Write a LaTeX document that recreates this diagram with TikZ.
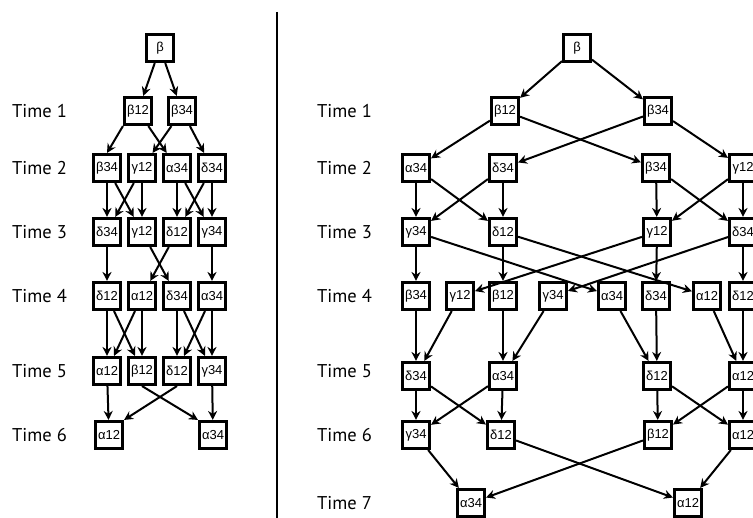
\documentclass[tikz,border=0pt]{standalone}
\usepackage{fontspec}
\setmainfont{Liberation Sans}
\newfontfamily\timefont{PT Sans}
\usepackage{tikz}
\usetikzlibrary{arrows.meta}

\begin{document}
\begin{tikzpicture}[x=1pt, y=-1pt,
  tbox/.style={draw, line width=2.6pt, minimum size=27.5pt, inner sep=0pt, font=\fontsize{13}{15}\selectfont},
  tlabel/.style={anchor=west, inner sep=0pt, font=\timefont\fontsize{18.5}{20}\selectfont},
  flow/.style={-{Stealth[length=9pt, width=9pt]}, line width=2pt}
]
  \useasboundingbox (0,0) rectangle (753,518);
  \clip (0,0) rectangle (753,518);

  % divider
  \draw[line width=2pt] (277,12) -- (277,518);

  % left: time labels
  \node[tlabel] (Lt1) at (12,111) {Time 1};
  \node[tlabel] (Lt2) at (12,168) {Time 2};
  \node[tlabel] (Lt3) at (12,232) {Time 3};
  \node[tlabel] (Lt4) at (12,296) {Time 4};
  \node[tlabel] (Lt5) at (12,371) {Time 5};
  \node[tlabel] (Lt6) at (12,435) {Time 6};

  % left: boxes
  \node[tbox] (Lb) at (160,48) {β};
  \node[tbox] (L1a) at (138,111) {β12};
  \node[tbox] (L1b) at (182,111) {β34};
  \node[tbox] (L2a) at (107,168) {β34};
  \node[tbox] (L2b) at (142,168) {γ12};
  \node[tbox] (L2c) at (177,168) {α34};
  \node[tbox] (L2d) at (212,168) {δ34};
  \node[tbox] (L3a) at (107,232) {δ34};
  \node[tbox] (L3b) at (142,232) {γ12};
  \node[tbox] (L3c) at (177,232) {δ12};
  \node[tbox] (L3d) at (212,232) {γ34};
  \node[tbox] (L4a) at (107,296) {δ12};
  \node[tbox] (L4b) at (142,296) {α12};
  \node[tbox] (L4c) at (177,296) {δ34};
  \node[tbox] (L4d) at (212,296) {α34};
  \node[tbox] (L5a) at (107,371) {α12};
  \node[tbox] (L5b) at (142,371) {β12};
  \node[tbox] (L5c) at (177,371) {δ12};
  \node[tbox] (L5d) at (212,371) {γ34};
  \node[tbox] (L6a) at (109,435) {α12};
  \node[tbox] (L6b) at (213,435) {α34};

  % left: arrows
  \draw[flow] (Lb) -- (L1a);
  \draw[flow] (Lb) -- (L1b);
  \draw[flow] (L1a.south west) -- (L2a.north);
  \draw[flow] (L1a) -- (L2c);
  \draw[flow] (L1b) -- (L2b);
  \draw[flow] (L1b) -- (L2d);
  \draw[flow] (L2a) -- (L3a);
  \draw[flow] (L2a) -- (L3b);
  \draw[flow] (L2b) -- (L3a);
  \draw[flow] (L2b) -- (L3b);
  \draw[flow] (L2c) -- (L3c);
  \draw[flow] (L2c) -- (L3d);
  \draw[flow] (L2d) -- (L3c);
  \draw[flow] (L2d) -- (L3d);
  \draw[flow] (L3a) -- (L4a);
  \draw[flow] (L3b) -- (L4c);
  \draw[flow] (L3c) -- (L4b);
  \draw[flow] (L3d) -- (L4d);
  \draw[flow] (L4a) -- (L5a);
  \draw[flow] (L4a) -- (L5b);
  \draw[flow] (L4b) -- (L5a);
  \draw[flow] (L4b) -- (L5b);
  \draw[flow] (L4c) -- (L5c);
  \draw[flow] (L4c) -- (L5d);
  \draw[flow] (L4d) -- (L5c);
  \draw[flow] (L4d) -- (L5d);
  \draw[flow] (L5a) -- (L6a);
  \draw[flow] (L5b.south) -- (L6b.north west);
  \draw[flow] (L5c.south) -- (L6a.north east);
  \draw[flow] (L5d) -- (L6b);

  % right: time labels
  \node[tlabel] (Rt1) at (317,111) {Time 1};
  \node[tlabel] (Rt2) at (317,168) {Time 2};
  \node[tlabel] (Rt3) at (317,232) {Time 3};
  \node[tlabel] (Rt4) at (317,296) {Time 4};
  \node[tlabel] (Rt5) at (317,371) {Time 5};
  \node[tlabel] (Rt6) at (317,435) {Time 6};
  \node[tlabel] (Rt7) at (317,503) {Time 7};

  % right: boxes
  \node[tbox] (Rb) at (577,48) {β};
  \node[tbox] (R1a) at (505,111) {β12};
  \node[tbox] (R1b) at (658,111) {β34};
  \node[tbox] (R2a) at (416,168) {α34};
  \node[tbox] (R2b) at (503,168) {δ34};
  \node[tbox] (R2c) at (656,168) {β34};
  \node[tbox] (R2d) at (743,168) {γ12};
  \node[tbox] (R3a) at (416,232) {γ34};
  \node[tbox] (R3b) at (503,232) {δ12};
  \node[tbox] (R3c) at (657,232) {γ12};
  \node[tbox] (R3d) at (743,232) {δ34};
  \node[tbox] (R4a) at (416,296) {β34};
  \node[tbox] (R4b) at (460,296) {γ12};
  \node[tbox] (R4c) at (503,296) {β12};
  \node[tbox] (R4d) at (553,296) {γ34};
  \node[tbox] (R4e) at (612,296) {α34};
  \node[tbox] (R4f) at (656,296) {δ34};
  \node[tbox] (R4g) at (707,296) {α12};
  \node[tbox] (R4h) at (743,296) {δ12};
  \node[tbox] (R5a) at (416,376) {δ34};
  \node[tbox] (R5b) at (503,376) {α34};
  \node[tbox] (R5c) at (657,376) {δ12};
  \node[tbox] (R5d) at (743,376) {α12};
  \node[tbox] (R6a) at (416,435) {γ34};
  \node[tbox] (R6b) at (501,435) {δ12};
  \node[tbox] (R6c) at (658,435) {β12};
  \node[tbox] (R6d) at (743,435) {α12};
  \node[tbox] (R7a) at (471,503) {α34};
  \node[tbox] (R7b) at (688,503) {α12};

  % right: arrows
  \draw[flow] (Rb) -- (R1a);
  \draw[flow] (Rb) -- (R1b);
  \draw[flow] (R1a) -- (R2a);
  \draw[flow] (R1a) -- (R2c);
  \draw[flow] (R1b) -- (R2b);
  \draw[flow] (R1b) -- (R2d);
  \draw[flow] (R2a) -- (R3a);
  \draw[flow] (R2a) -- (R3b);
  \draw[flow] (R2b) -- (R3a);
  \draw[flow] (R2b) -- (R3b);
  \draw[flow] (R2c) -- (R3c);
  \draw[flow] (R2c) -- (R3d);
  \draw[flow] (R2d) -- (R3c);
  \draw[flow] (R2d) -- (R3d);
  \draw[flow] (R3a) -- (R4a);
  \draw[flow] (R3a) -- (R4e);
  \draw[flow] (R3b) -- (R4c);
  \draw[flow] (R3b) -- (R4g);
  \draw[flow] (R3c) -- (R4b);
  \draw[flow] (R3c) -- (R4f);
  \draw[flow] (R3d) -- (R4d);
  \draw[flow] (R3d) -- (R4h);
  \draw[flow] (R4a) -- (R5a);
  \draw[flow] (R4b) -- (R5a);
  \draw[flow] (R4c) -- (R5b);
  \draw[flow] (R4d) -- (R5b);
  \draw[flow] (R4e) -- (R5c);
  \draw[flow] (R4f) -- (R5c);
  \draw[flow] (R4g) -- (R5d);
  \draw[flow] (R4h) -- (R5d);
  \draw[flow] (R5a) -- (R6a);
  \draw[flow] (R5a) -- (R6b);
  \draw[flow] (R5b) -- (R6a);
  \draw[flow] (R5b) -- (R6b);
  \draw[flow] (R5c) -- (R6c);
  \draw[flow] (R5c) -- (R6d);
  \draw[flow] (R5d) -- (R6c);
  \draw[flow] (R5d) -- (R6d);
  \draw[flow] (R6a) -- (R7a);
  \draw[flow] (R6b) -- (R7b);
  \draw[flow] (R6c) -- (R7a);
  \draw[flow] (R6d) -- (R7b);
\end{tikzpicture}
\end{document}
